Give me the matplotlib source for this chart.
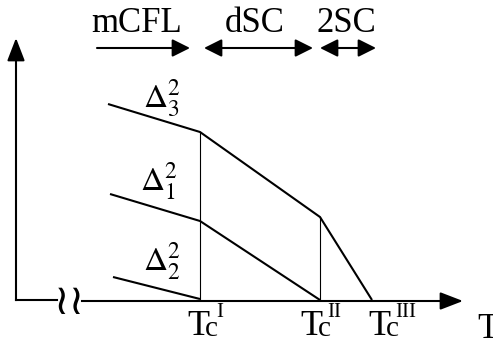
"""
Schematic of the gap parameters Delta_i^2 vs temperature
with the mCFL / dSC / 2SC phases
"""
import matplotlib.pyplot as plt

plt.rcParams['font.family'] = ['Liberation Serif', 'DejaVu Serif']
plt.rcParams['mathtext.fontset'] = 'stix'

# critical temperatures (schematic units)
T_c = [200, 320, 372]
T_sup = ['I', 'II', 'III']
T_label_x = [187, 300, 368]
T_sup_dx = [29, 27, 27]

# gap curves, schematic values
d3_T = [108, 200, 320, 372]
d3_v = [196, 168, 83, 0]
d1_T = [110, 200, 320]
d1_v = [106, 79, 0]
d2_T = [113, 200]
d2_v = [23, 1]

# gap labels: text, left x, baseline
gap_labels = [r'$\Delta_3^2$', r'$\Delta_1^2$', r'$\Delta_2^2$']
gap_x = [143, 140, 143]
gap_y = [193, 110, 30]

# phase labels and their ranges
phases = ['mCFL', 'dSC', '2SC']
phase_x = [91, 225, 316]
phase_lo = [97, 204, 320]
phase_hi = [190, 313, 376]
phase_both = [False, True, True]

fig = plt.figure(figsize=(4.93, 3.44), dpi=100)
ax = fig.add_axes([0, 0, 1, 1])
ax.set_xlim(0, 493)
ax.set_ylim(-44, 300)
ax.axis('off')

lw = 1.5
# gap lines
for xs, ys in [(d3_T, d3_v), (d1_T, d1_v), (d2_T, d2_v)]:
    ax.plot(xs, ys, color='black', lw=lw, solid_capstyle='butt')

# thin vertical lines at the transitions
ax.plot([T_c[0], T_c[0]], [0, d3_v[1]], color='black', lw=0.8)
ax.plot([T_c[1], T_c[1]], [0, d3_v[2]], color='black', lw=0.8)

big_head = dict(arrowstyle='-|>,head_length=0.7,head_width=0.27',
                color='black', lw=lw, shrinkA=0, shrinkB=0, mutation_scale=20)

# axes with a break
ax.plot([16, 16], [0, 250], color='black', lw=lw)
ax.annotate('', xy=(16, 262), xytext=(16, 240), arrowprops=big_head)
ax.plot([16, 57], [0, 0], color='black', lw=lw)
ax.plot([82, 450], [-1, -1], color='black', lw=lw)
ax.annotate('', xy=(463, -1), xytext=(440, -1), arrowprops=big_head)
ax.text(69, -2, '\u2240\u2240', fontsize=30, family='DejaVu Sans',
        ha='center', va='center')

# gap labels
for lab, x, y in zip(gap_labels, gap_x, gap_y):
    ax.text(x, y, lab, fontsize=24, ha='left', va='baseline')

# temperature labels: T, subscript c, roman superscript
for sup, x, dx in zip(T_sup, T_label_x, T_sup_dx):
    ax.text(x, -35, 'T', fontsize=26, ha='left', va='baseline')
    ax.text(x + 18, -36, 'c', fontsize=21, ha='left', va='baseline')
    ax.text(x + dx, -17, sup, fontsize=15, ha='left', va='baseline')
ax.text(477, -38, 'T', fontsize=25, ha='left', va='baseline')

# phase arrows on top
for name, x, lo, hi, both in zip(phases, phase_x, phase_lo, phase_hi, phase_both):
    style = '<|-|>' if both else '-|>'
    ax.annotate('', xy=(hi, 252), xytext=(lo, 252),
                arrowprops=dict(arrowstyle=style + ',head_length=0.54,head_width=0.27',
                                color='black', lw=lw, shrinkA=0, shrinkB=0,
                                mutation_scale=20))
    ax.text(x, 268, name, fontsize=25, ha='left', va='baseline')

plt.savefig('out.png', dpi=100)
